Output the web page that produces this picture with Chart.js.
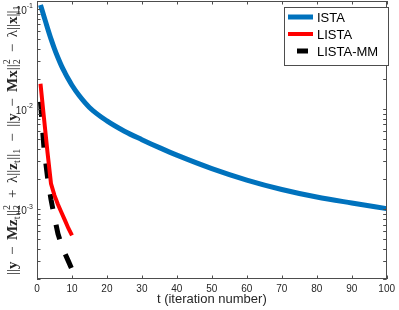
<!DOCTYPE html>
<html>
<head>
<meta charset="utf-8">
<script src="https://cdn.jsdelivr.net/npm/chart.js@4.4.0/dist/chart.umd.min.js"></script>
<style>
html, body { margin: 0; padding: 0; background: #fff; }
#wrap { width: 399px; height: 310px; }
</style>
</head>
<body>
<div id="wrap"><canvas id="myChart"></canvas></div>
<script>
// values
const tIsta = [1, 2, 3, 4, 5, 6, 7, 8, 9, 10, 12, 15, 20, 25, 30, 35, 40, 50, 60, 70, 80, 90, 100];
const ista = [0.1096, 0.0842, 0.0646, 0.0502, 0.0399, 0.0325, 0.027, 0.023, 0.0198, 0.01727, 0.01369, 0.01036,
    0.0076, 0.006, 0.00494, 0.00411, 0.00346, 0.00254, 0.00195, 0.00157, 0.00132, 0.00115, 0.00101];
const tLista = [1, 2, 3, 4, 5, 6, 7, 8, 9, 10];
const lista = [0.0179, 0.0081, 0.0037, 0.0018, 0.00137, 0.00111, 0.000925, 0.00077, 0.00064, 0.000545];
const listaMM = [0.0118, 0.00405, 0.00209, 0.00125, 0.000825, 0.000565, 0.00044, 0.00036, 0.0003, 0.00025];
const names = ["ISTA", "LISTA", "LISTA-MM"];
const xTicks = [0, 10, 20, 30, 40, 50, 60, 70, 80, 90, 100];
const yTicks = [1e-3, 1e-2, 1e-1];
const yExp = ["-3", "-2", "-1"];

const axisColor = "#262626";

const pts = (xs, ys) => xs.map((x, i) => ({ x: x, y: ys[i] }));

// y label pieces: [text, kind]  kind: 0 normal, 1 bold, op (spaced operator), sub, ss (sup+sub stacked)
const yTitle = [
    ["||", 0], ["y", 1], ["−", "op"], ["M", 1], ["z", 1], ["t", "sub"], ["||", 0], ["2", "ss"],
    ["+", "op"], ["λ||", 0], ["z", 1], ["t", "sub"], ["||", 0], ["1", "sub"],
    ["−", "op"], ["||", 0], ["y", 1], ["−", "op"], ["M", 1], ["x", 1], ["||", 0], ["2", "ss"],
    ["−", "op"], ["λ||", 0], ["x", 1], ["||", 0], ["1", "sub"]
];

const decor = {
    id: "decor",
    afterDatasetsDraw(chart) {
        const ctx = chart.ctx;
        const a = chart.chartArea;
        const xs = chart.scales.x, ys = chart.scales.y;
        ctx.save();
        ctx.strokeStyle = "#4d4d4d";
        ctx.lineWidth = 1;
        // frame
        ctx.strokeRect(Math.round(a.left) + 0.5, Math.round(a.top) + 0.5,
            Math.round(a.right - a.left) - 1, Math.round(a.bottom - a.top) - 1);
        // inward ticks
        ctx.beginPath();
        xTicks.forEach(v => {
            const px = Math.round(xs.getPixelForValue(v)) + 0.5;
            ctx.moveTo(px, a.bottom); ctx.lineTo(px, a.bottom - 3.5);
            ctx.moveTo(px, a.top); ctx.lineTo(px, a.top + 3.5);
        });
        for (let k = -4; k <= -1; k++) {
            for (let m = 1; m <= 9; m++) {
                const v = m * Math.pow(10, k);
                if (v < ys.min || v > ys.max) continue;
                const py = Math.round(ys.getPixelForValue(v)) + 0.5;
                ctx.moveTo(a.left, py); ctx.lineTo(a.left + 3.5, py);
                ctx.moveTo(a.right, py); ctx.lineTo(a.right - 3.5, py);
            }
        }
        ctx.stroke();

        // y tick labels 10^k
        ctx.fillStyle = axisColor;
        yTicks.forEach((v, i) => {
            const py = ys.getPixelForValue(v);
            ctx.font = "7px 'Liberation Sans', Arial, sans-serif";
            const we = ctx.measureText(yExp[i]).width;
            ctx.textBaseline = "alphabetic";
            ctx.textAlign = "left";
            const right = a.left - 4;
            ctx.fillText(yExp[i], right - we, py - 0.5);
            ctx.font = "10px 'Liberation Sans', Arial, sans-serif";
            const wb = ctx.measureText("10").width;
            ctx.fillText("10", right - we - wb, py + 5);
        });

        // y axis title, operators spaced so it spans the plot height
        const base = 15, small = 10;
        const fontOf = (kind) => (kind === 1 ? "bold " + base : (kind === "sub" || kind === "ss") ? small : base) +
            "px 'Liberation Serif', 'Times New Roman', serif";
        let total = 0, nOps = 0;
        yTitle.forEach(p => {
            ctx.font = fontOf(p[1]);
            total += ctx.measureText(p[0]).width + ((p[1] === "sub" || p[1] === "ss") ? 0.5 : 0);
            if (p[1] === "op") nOps++;
        });
        const pad = Math.max(3, (270 - total) / (2 * nOps));
        const full = total + pad * 2 * nOps;
        const cy = (a.top + a.bottom) / 2;
        ctx.translate(12, cy);
        ctx.rotate(-Math.PI / 2);
        ctx.fillStyle = axisColor;
        ctx.textAlign = "left";
        ctx.textBaseline = "alphabetic";
        let x = -full / 2;
        const bl = 5;
        yTitle.forEach(p => {
            const kind = p[1];
            ctx.font = fontOf(kind);
            const w = ctx.measureText(p[0]).width;
            if (kind === "sub") {
                ctx.fillText(p[0], x, bl + 3);
                x += w + 0.5;
            } else if (kind === "ss") {
                ctx.fillText(p[0], x, bl - 7);
                ctx.fillText(p[0], x, bl + 3);
                x += w + 0.5;
            } else if (kind === "op") {
                x += pad;
                ctx.fillText(p[0], x, bl);
                x += w + pad;
            } else {
                ctx.fillText(p[0], x, bl);
                x += w;
            }
        });
        ctx.restore();

        // legend
        ctx.save();
        const lx = 284, ly = 7, lw = 104, lh = 58;
        ctx.fillStyle = "#fff";
        ctx.fillRect(lx, ly, lw, lh);
        ctx.strokeStyle = "#4d4d4d";
        ctx.lineWidth = 1;
        ctx.strokeRect(lx + 0.5, ly + 0.5, lw, lh);
        chart.data.datasets.forEach((ds, i) => {
            const yy = ly + 10 + i * 17;
            ctx.strokeStyle = ds.borderColor;
            ctx.lineWidth = ds.borderWidth;
            ctx.lineCap = "butt";
            ctx.beginPath();
            if (ds.borderDash && ds.borderDash.length) { ctx.moveTo(lx + 13, yy); ctx.lineTo(lx + 24, yy); }
            else { ctx.moveTo(lx + 4, yy); ctx.lineTo(lx + 29, yy); }
            ctx.stroke();
            ctx.fillStyle = "#000";
            ctx.font = "13px 'Liberation Sans', Arial, sans-serif";
            ctx.textBaseline = "middle";
            ctx.fillText(ds.label, lx + 33, yy + 1);
        });
        ctx.restore();
    }
};

const data = {
    datasets: [
        {
            label: names[0],
            data: pts(tIsta, ista),
            borderColor: "#0072BD",
            borderWidth: 5,
            cubicInterpolationMode: "monotone",
            pointRadius: 0,
        },
        {
            label: names[1],
            data: pts(tLista, lista),
            borderColor: "#FF0000",
            borderWidth: 4,
            pointRadius: 0,
        },
        {
            label: names[2],
            data: pts(tLista, listaMM),
            borderColor: "#000000",
            borderWidth: 5,
            borderDash: [15, 16],
            borderCapStyle: "butt",
            pointRadius: 0,
        },
    ],
};

const config = {
    type: "line",
    data: data,
    options: {
        responsive: true,
        maintainAspectRatio: false,
        animation: false,
        layout: { padding: { top: 1, right: 7.5, left: 0, bottom: 0 } },
        plugins: { legend: { display: false }, tooltip: { enabled: false } },
        scales: {
            x: {
                type: "linear",
                min: 0,
                max: 100,
                afterFit: (s) => { s.height = 31; },
                afterBuildTicks: (s) => { s.ticks = xTicks.map(v => ({ value: v })); },
                grid: { display: false, drawTicks: false },
                border: { display: false },
                ticks: {
                    padding: 4,
                    color: axisColor,
                    maxRotation: 0,
                    font: { family: "'Liberation Sans', Arial, sans-serif", size: 10 },
                },
                title: {
                    display: true,
                    text: "t (iteration number)",
                    color: axisColor,
                    padding: { top: 0, bottom: 3 },
                    font: { family: "'Liberation Sans', Arial, sans-serif", size: 13 },
                },
            },
            y: {
                type: "logarithmic",
                min: 2e-4,
                max: 0.12,
                afterFit: (s) => { s.width = 37; },
                grid: { display: false, drawTicks: false },
                border: { display: false },
                ticks: { display: false },
            },
        },
    },
    plugins: [decor],
};

const myChart = new Chart(document.getElementById("myChart"), config);
</script>
</body>
</html>
